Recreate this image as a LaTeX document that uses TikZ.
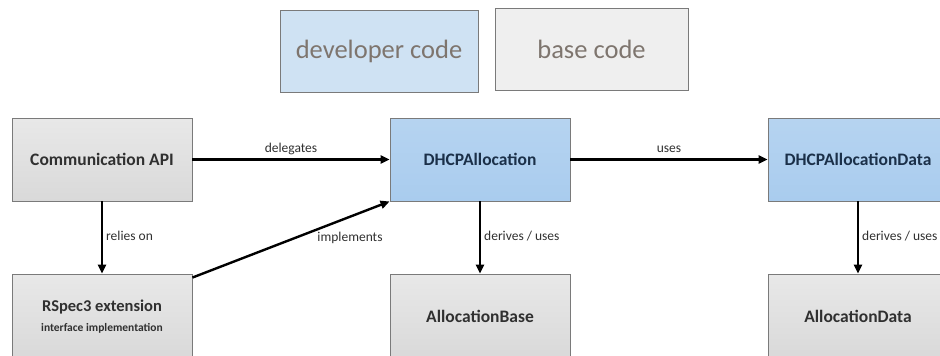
\documentclass[tikz,border=0pt]{standalone}
\usepackage{fontspec}
\setmainfont{Carlito}
\usetikzlibrary{arrows.meta}
\definecolor{devblue}{HTML}{A9CCEE}
\definecolor{devlight}{HTML}{CFE2F3}
\definecolor{basegray}{HTML}{D9D9D9}
\definecolor{baselight}{HTML}{EFEFEF}
\definecolor{boxline}{HTML}{7A7A7A}
\definecolor{bluetext}{HTML}{1B3049}
\definecolor{graytext}{HTML}{303030}
\definecolor{legendtext}{HTML}{7E756E}
\tikzset{
  box/.style={draw=boxline, line width=0.9pt, minimum width=180pt, minimum height=83pt, inner sep=0pt, font=\bfseries\fontsize{17.5}{20}\selectfont},
  devbox/.style={box, top color=devblue!85!white, bottom color=devblue, text=bluetext},
  basebox/.style={box, top color=basegray!60!white, bottom color=basegray, text=graytext},
  conn/.style={line width=2.4pt, -{Triangle[length=9pt,width=8pt]}},
  elabel/.style={font=\fontsize{13.5}{15}\selectfont, text=graytext, inner sep=2pt, text height=9pt, text depth=3pt},
  legend/.style={draw=boxline, line width=0.9pt, minimum height=82pt, inner sep=0pt, text=legendtext, font=\fontsize{26.5}{30}\selectfont}
}
\begin{document}
\begin{tikzpicture}[x=1pt,y=-1pt]
\clip (0,0) rectangle (940,356);
\fill[white] (0,0) rectangle (940,356);
% legend
\node[legend, fill=devlight, minimum width=198pt] (dev) at (379,51) {developer code};
\node[legend, fill=baselight, minimum width=193pt] (base) at (591.5,49.5) {base code};
% main boxes
\node[basebox] (comm) at (102,159.5) {Communication API};
\node[basebox, minimum height=84pt] (rspec) at (102,316) {};
\node[text=graytext, font=\bfseries\fontsize{16.5}{19}\selectfont] (rspecA) at (102,307) {RSpec3 extension};
\node[text=graytext, font=\bfseries\fontsize{11.5}{13}\selectfont] (rspecB) at (102,328) {interface implementation};
\node[devbox] (alloc) at (480,159.5) {DHCPAllocation};
\node[basebox, minimum height=84pt] (abase) at (480,316) {AllocationBase};
\node[devbox] (data) at (858,159.5) {DHCPAllocationData};
\node[basebox, minimum height=84pt] (adata) at (858,316) {AllocationData};
% connectors
\draw[conn] (comm.east) -- (alloc.west) node[elabel, midway, above=1pt] {delegates};
\draw[conn] (comm.south) -- (rspec.north) node[elabel, midway, right=1pt] {relies on};
\draw[conn] (rspec.north east) ++(0,4) -- (alloc.south west);
\node[elabel] (impl) at (350,238) {implements};
\draw[conn] (alloc.east) -- (data.west) node[elabel, midway, above=1pt] {uses};
\draw[conn] (alloc.south) -- (abase.north) node[elabel, midway, right=1pt] {derives / uses};
\draw[conn] (data.south) -- (adata.north) node[elabel, midway, right=1pt] {derives / uses};
\end{tikzpicture}
\end{document}
